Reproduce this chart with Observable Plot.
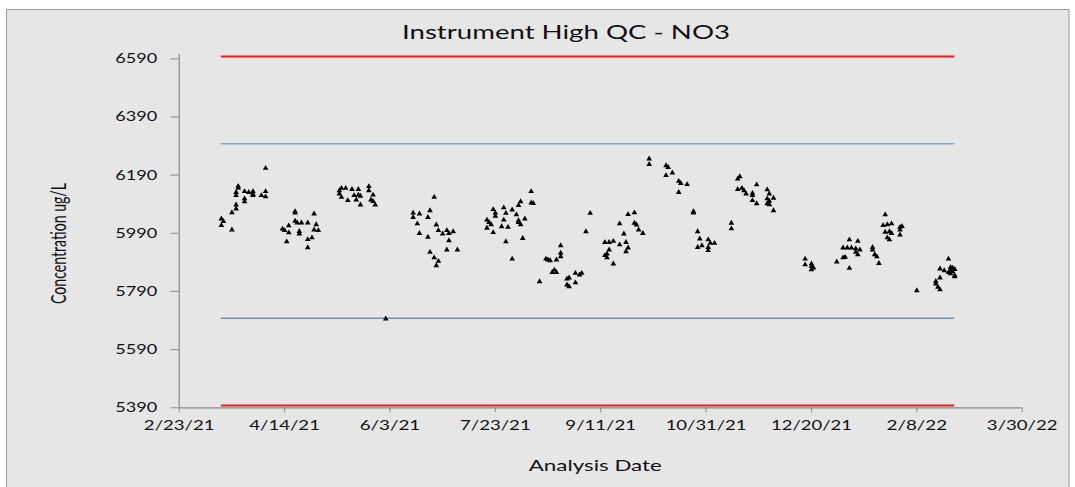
<!DOCTYPE html>
<html><head><meta charset="utf-8">
<script src="https://cdn.jsdelivr.net/npm/d3@7"></script>
<script src="https://cdn.jsdelivr.net/npm/@observablehq/plot@0.6"></script>
<style>
html,body{margin:0;padding:0;background:#fff;}
#chart{width:1075px;height:487px;overflow:hidden;}
</style></head><body><div id="chart"></div>
<script>
const chartTitle = "Instrument High QC - NO3";
const xLabel = "Analysis Date";
const yLabel = "Concentration ug/L";

const qcDates = [
"2021-03-15","2021-03-16","2021-03-20","2021-03-22","2021-03-23","2021-03-26","2021-03-28","2021-03-30","2021-04-03","2021-04-05",
"2021-04-13","2021-04-14","2021-04-15","2021-04-16","2021-04-19","2021-04-20","2021-04-21","2021-04-22","2021-04-25","2021-04-27","2021-04-28","2021-04-29","2021-04-30",
"2021-05-10","2021-05-11","2021-05-13","2021-05-14","2021-05-16","2021-05-17","2021-05-18","2021-05-19","2021-05-20","2021-05-24","2021-05-25","2021-05-26","2021-05-27",
"2021-06-01",
"2021-06-14","2021-06-16","2021-06-17","2021-06-21","2021-06-22","2021-06-24","2021-06-25","2021-06-26","2021-06-28","2021-06-30","2021-07-01","2021-07-03","2021-07-05",
"2021-07-19","2021-07-20","2021-07-21","2021-07-22","2021-07-23","2021-07-26","2021-07-27","2021-07-28","2021-07-29","2021-07-31","2021-08-02","2021-08-03","2021-08-04","2021-08-05","2021-08-06","2021-08-09","2021-08-10",
"2021-08-13","2021-08-16","2021-08-17","2021-08-18","2021-08-19","2021-08-20","2021-08-21","2021-08-23","2021-08-26","2021-08-27","2021-08-30","2021-09-01","2021-09-02","2021-09-04","2021-09-06",
"2021-09-13","2021-09-14","2021-09-15","2021-09-17","2021-09-20","2021-09-22","2021-09-23","2021-09-24","2021-09-27","2021-09-28","2021-09-29","2021-10-01",
"2021-10-04","2021-10-12","2021-10-13","2021-10-15","2021-10-18","2021-10-19","2021-10-22","2021-10-25",
"2021-10-27","2021-10-28","2021-10-29","2021-11-01","2021-11-02","2021-11-04",
"2021-11-12","2021-11-15","2021-11-16","2021-11-17","2021-11-18","2021-11-19","2021-11-22","2021-11-24","2021-11-29","2021-11-30","2021-12-02",
"2021-12-17","2021-12-20","2021-12-21",
"2022-01-01","2022-01-04","2022-01-05","2022-01-06","2022-01-07","2022-01-08","2022-01-10","2022-01-11","2022-01-12","2022-01-18","2022-01-19","2022-01-20","2022-01-21",
"2022-01-23","2022-01-24","2022-01-25","2022-01-26","2022-01-27","2022-01-31","2022-02-01",
"2022-02-08","2022-02-17","2022-02-18","2022-02-19","2022-02-21","2022-02-23","2022-02-24","2022-02-25","2022-02-26"
];

// QC results (ug/L) for each analysis date, same order as qcDates
const qcRuns = [
[6040,6017],[6031],[6061,6002],[6131,6120,6088,6074],[6152,6145],[6134,6109,6099],[6131],[6134,6125,6120],[6120],[6214,6134,6116],
[6005],[6000],[5961],[6016,5992],[6065,6060,6032],[6026],[5997,5988],[6026],[6026,5969,5941],[5975],[6057,6002],[6020],[6000],
[6137,6126],[6145,6114],[6145],[6103],[6141],[6120],[6105],[6141,6122],[6118,6088],[6151,6137],[6105],[6122,6100],[6088],
[5696],
[6060,6045],[6023],[6057,5990],[6045,5977],[6068,5925],[6114,5906],[6019,5879],[6000,5894],[5988],[6000,5933],[5990,5965],[5996],[5933],
[6036,6008],[6028],[6020],[6072,5993],[6060,6049],[6013],[6078,6036],[6059,5961],[6011],[6071,5902],[6054],[6086,6034,6028],[6099,6020],[5973],[6040],[6134,6095],[6093],
[5824],[5902],[5899],[5896],[5856],[5864],[5899,5856],[5948,5922,5910],[5833,5813],[5837,5807],[5853,5820],[5847],[5853],[5996],[6059],
[5959,5914],[5919,5906],[5959,5933],[5963,5885],[6023,5951],[5988],[5959,5927],[6055,5940],[6061,6025],[6019],[6002],[5990],
[6246,6227],[6223,6189],[6217],[6198],[6169,6131],[6162],[6158],[6065,6060],
[5996,5942],[5971],[5948],[5968,5942,5931],[5956],[5956],
[6025,6006],[6177,6141],[6185],[6145],[6137],[6126],[6128,6120,6103],[6157,6092],[6140,6109,6092],[6126,6101,6089],[6111,6068],
[5902,5882],[5885,5876,5865],[5871],
[5892],[5906,5940],[5908],[5940],[5870,5968],[5940],[5937,5925],[5963,5917],[5933],[5942,5933],[5917],[5910],[5887],
[6017],[6054,5994],[6020,5975],[5996,5968],[6023,5990],[6002,6011,5985],[6014],
[5793],[5825,5816],[5805],[5868,5837,5796],[5862],[5902,5856],[5873,5862,5851],[5871,5858],[5866,5845,5841]
];

// control limits (mean ± 2SD, ± 3SD)
const limitDates = ["2021-03-15","2022-02-26"];
const redLimits = [6598, 5398];
const warnLimits = [6298, 5698];
const warnColors = ["#84a3c6", "#6f8fb3"];

const yTicks = [5390, 5590, 5790, 5990, 6190, 6390, 6590];
const xTickLabels = ["2/23/21","4/14/21","6/3/21","7/23/21","9/11/21","10/31/21","12/20/21","2/8/22","3/30/22"];

const parseISO = d3.utcParse("%Y-%m-%d");
const parseTick = d3.utcParse("%m/%d/%y");
const xTicks = xTickLabels.map(parseTick);
const points = qcDates.flatMap((d, i) => qcRuns[i].map(v => ({date: parseISO(d), value: v})));
const limStart = parseISO(limitDates[0]);
const limEnd = parseISO(limitDates[1]);

const axisColor = "#878787";

const plot = Plot.plot({
  width: 1075,
  height: 487,
  marginLeft: 178.7,
  marginRight: 53.3,
  marginTop: 58.3,
  marginBottom: 79.7,
  style: {background: "#fff", fontFamily: "Lato, 'Open Sans', sans-serif", color: "#000", overflow: "visible"},
  x: {type: "utc", domain: [xTicks[0], xTicks[xTicks.length - 1]]},
  y: {domain: [yTicks[0], yTicks[yTicks.length - 1]]},
  color: {type: "identity"},
  marks: [
    Plot.ruleY([yTicks[0]], {stroke: axisColor, strokeWidth: 1.2}),
    Plot.ruleX([xTicks[0]], {y1: yTicks[0], y2: 6605, stroke: axisColor, strokeWidth: 1.2}),
    Plot.axisY(yTicks, {tickSize: 8, tickPadding: 14, stroke: axisColor, fill: "#111", fontSize: 14, label: null, tickFormat: d => String(d)}),
    Plot.axisX(xTicks, {tickSize: 5, tickPadding: 7, stroke: axisColor, fill: "#111", fontSize: 14, label: null, tickFormat: (d, i) => xTickLabels[i]}),
    Plot.ruleY(warnLimits, {x1: () => limStart, x2: () => limEnd, stroke: (d, i) => warnColors[i], strokeWidth: 1.6}),
    Plot.ruleY(redLimits, {x1: () => limStart, x2: () => limEnd, stroke: "#ec1c1c", strokeWidth: 2}),
    Plot.dot(points, {x: "date", y: "value", symbol: "triangle", r: 2.1, fill: "#000", stroke: "none"})
  ]
});

const svg = d3.select(plot);
svg.insert("rect", ":first-child")
  .attr("x", 6.5).attr("y", 9.5).attr("width", 1062.5).attr("height", 500)
  .attr("fill", "#e6e6e6").attr("stroke", "#9a9a9a").attr("stroke-width", 1);

svg.selectAll('g[aria-label="y-axis tick label"] text')
  .attr("textLength", 42).attr("lengthAdjust", "spacingAndGlyphs");
svg.selectAll('g[aria-label="x-axis tick label"] text')
  .each(function() {
    const t = this.textContent;
    d3.select(this).attr("textLength", t.length * 10.1).attr("lengthAdjust", "spacingAndGlyphs");
  });

const font = "Lato, 'Open Sans', sans-serif";
svg.append("text")
  .attr("x", 566).attr("y", 39).attr("text-anchor", "middle")
  .attr("font-family", font).attr("font-size", 19.5).attr("fill", "#111")
  .attr("textLength", 328).attr("lengthAdjust", "spacingAndGlyphs")
  .text(chartTitle);
svg.append("text")
  .attr("x", 595.3).attr("y", 470.7).attr("text-anchor", "middle")
  .attr("font-family", font).attr("font-size", 16).attr("fill", "#111")
  .attr("textLength", 133).attr("lengthAdjust", "spacingAndGlyphs")
  .text(xLabel);
svg.append("text")
  .attr("transform", "translate(66,243.5) rotate(-90)").attr("text-anchor", "middle")
  .attr("font-family", font).attr("font-size", 21).attr("fill", "#111")
  .attr("textLength", 121).attr("lengthAdjust", "spacingAndGlyphs")
  .text(yLabel);

document.getElementById("chart").appendChild(plot);
</script>
</body></html>
